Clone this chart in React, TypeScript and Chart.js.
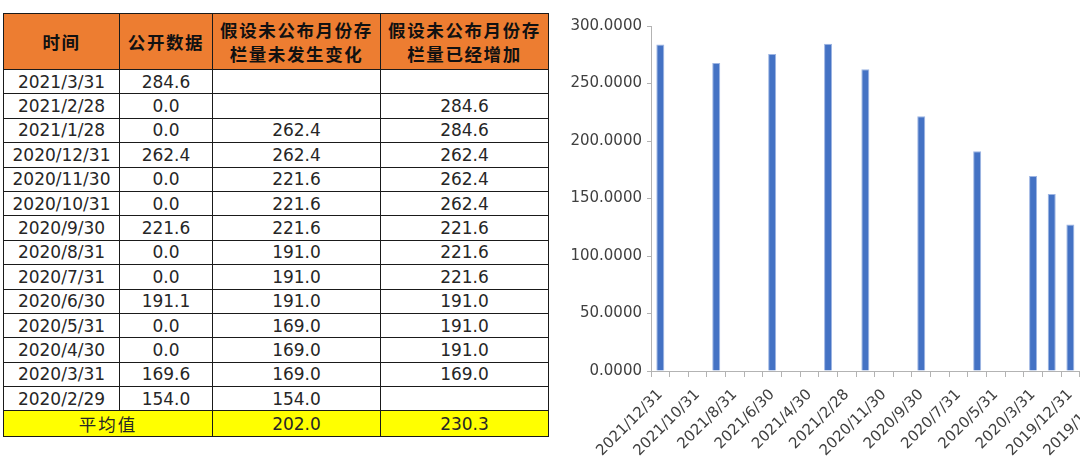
import { useEffect, useRef } from "react";
import { Chart, registerables } from "chart.js";

Chart.register(...registerables);

// ---- table data (left) ----
const tableDates = [
  "2021/3/31",
  "2021/2/28",
  "2021/1/28",
  "2020/12/31",
  "2020/11/30",
  "2020/10/31",
  "2020/9/30",
  "2020/8/31",
  "2020/7/31",
  "2020/6/30",
  "2020/5/31",
  "2020/4/30",
  "2020/3/31",
  "2020/2/29",
];
const publicData = ["284.6", "0.0", "0.0", "262.4", "0.0", "0.0", "221.6", "0.0", "0.0", "191.1", "0.0", "0.0", "169.6", "154.0"];
const unchangedData = ["", "", "262.4", "262.4", "221.6", "221.6", "221.6", "191.0", "191.0", "191.0", "169.0", "169.0", "169.0", "154.0"];
const increasedData = ["", "284.6", "284.6", "262.4", "262.4", "262.4", "221.6", "221.6", "221.6", "191.0", "191.0", "191.0", "169.0", ""];
const averages = ["202.0", "230.3"];

// ---- chart data (right) ----
const chartDates = [
  "2021/12/31",
  "2021/11/30",
  "2021/10/31",
  "2021/9/30",
  "2021/8/31",
  "2021/7/31",
  "2021/6/30",
  "2021/5/31",
  "2021/4/30",
  "2021/3/31",
  "2021/2/28",
  "2020/12/31",
  "2020/11/30",
  "2020/10/31",
  "2020/9/30",
  "2020/8/31",
  "2020/7/31",
  "2020/6/30",
  "2020/5/31",
  "2020/4/30",
  "2020/3/31",
  "2020/2/29",
  "2019/12/31",
  "2019/11/30",
  "2019/10/31",
  "2019/9/30",
];
const chartValues = [
  283.9, null, null, 267.8, null, null, 275.7, null, null, 284.6, null, 262.4, null,
  null, 221.6, null, null, 191.1, null, null, 169.6, 154.0, 127.4, null, null, null,
];
const yTicks = { min: 0, max: 300, step: 50 };

const border = "1.5px solid #1a1a1a";
const cell: React.CSSProperties = {
  border,
  padding: 0,
  textAlign: "center",
  fontFamily: '"DejaVu Sans", sans-serif',
  fontSize: 17,
  color: "#262626",
  whiteSpace: "nowrap",
};
const head: React.CSSProperties = {
  ...cell,
  background: "#ED7D31",
  fontFamily: '"Noto Sans CJK SC", sans-serif',
  fontWeight: "bold",
  fontSize: 17.5,
  letterSpacing: 1.6,
  lineHeight: "24px",
  color: "#111",
};

const DataTable = () => (
  <table
    style={{
      position: "absolute",
      left: 3,
      top: 13,
      width: 546,
      borderCollapse: "collapse",
      tableLayout: "fixed",
    }}
  >
    <colgroup>
      <col style={{ width: 116 }} />
      <col style={{ width: 93 }} />
      <col style={{ width: 168 }} />
      <col style={{ width: 168 }} />
    </colgroup>
    <tbody>
      <tr style={{ height: 56 }}>
        <th style={head}>时间</th>
        <th style={head}>公开数据</th>
        <th style={head}>
          假设未公布月份存
          <br />
          栏量未发生变化
        </th>
        <th style={head}>
          假设未公布月份存
          <br />
          栏量已经增加
        </th>
      </tr>
      {tableDates.map((d, i) => (
        <tr key={d} style={{ height: 24.4 }}>
          <td style={cell}>{d}</td>
          <td style={cell}>{publicData[i]}</td>
          <td style={cell}>{unchangedData[i]}</td>
          <td style={cell}>{increasedData[i]}</td>
        </tr>
      ))}
      <tr style={{ height: 24.4, background: "#FFFF00" }}>
        <td
          colSpan={2}
          style={{
            ...cell,
            fontFamily: '"Noto Sans CJK SC", sans-serif',
            fontSize: 17.5,
            letterSpacing: 2,
          }}
        >
          平均值
        </td>
        <td style={cell}>{averages[0]}</td>
        <td style={cell}>{averages[1]}</td>
      </tr>
    </tbody>
  </table>
);

const BarChart = () => {
  const chartRef = useRef<HTMLCanvasElement | null>(null);

  useEffect(() => {
    if (!chartRef.current) return;
    const ctx = chartRef.current.getContext("2d");
    if (!ctx) return;

    const axisColor = "#b3b3b3";
    const tickFont = { family: '"DejaVu Sans", sans-serif', size: 15 };

    const chart = new Chart(ctx, {
      type: "bar",
      data: {
        labels: chartDates,
        datasets: [
          {
            data: chartValues,
            backgroundColor: "#4472C4",
            borderColor: "#9DB5E3",
            borderWidth: 1,
            barPercentage: 0.43,
            categoryPercentage: 1,
          },
        ],
      },
      options: {
        animation: false,
        responsive: true,
        maintainAspectRatio: false,
        layout: { padding: { top: 26, right: 0, bottom: 0, left: 0 } },
        plugins: {
          legend: { display: false },
          tooltip: { enabled: false },
        },
        scales: {
          x: {
            offset: true,
            grid: {
              drawOnChartArea: false,
              drawTicks: true,
              tickLength: 6,
              color: axisColor,
              offset: true,
            },
            border: { color: axisColor },
            ticks: {
              autoSkip: false,
              maxRotation: 45,
              minRotation: 45,
              padding: 9,
              color: "#404040",
              font: tickFont,
              callback: function (value, index) {
                return index % 2 === 0 ? chartDates[index] : "";
              },
            },
            afterFit: (scale) => {
              scale.height = 94;
            },
          },
          y: {
            min: yTicks.min,
            max: yTicks.max,
            grid: {
              drawOnChartArea: false,
              drawTicks: true,
              tickLength: 4,
              color: axisColor,
            },
            border: { color: axisColor },
            ticks: {
              stepSize: yTicks.step,
              padding: 5,
              color: "#404040",
              font: tickFont,
              callback: (v) => Number(v).toFixed(4),
            },
            afterFit: (scale) => {
              scale.width = 91;
            },
          },
        },
      },
    });

    return () => {
      chart.destroy();
    };
  }, []);

  return (
    <div style={{ position: "absolute", left: 560, top: 0, width: 588, height: 465 }}>
      <canvas ref={chartRef} />
    </div>
  );
};

export default function App() {
  return (
    <div
      style={{
        position: "fixed",
        inset: 0,
        overflow: "hidden",
        background: "#fff",
      }}
    >
      <DataTable />
      <BarChart />
    </div>
  );
}
